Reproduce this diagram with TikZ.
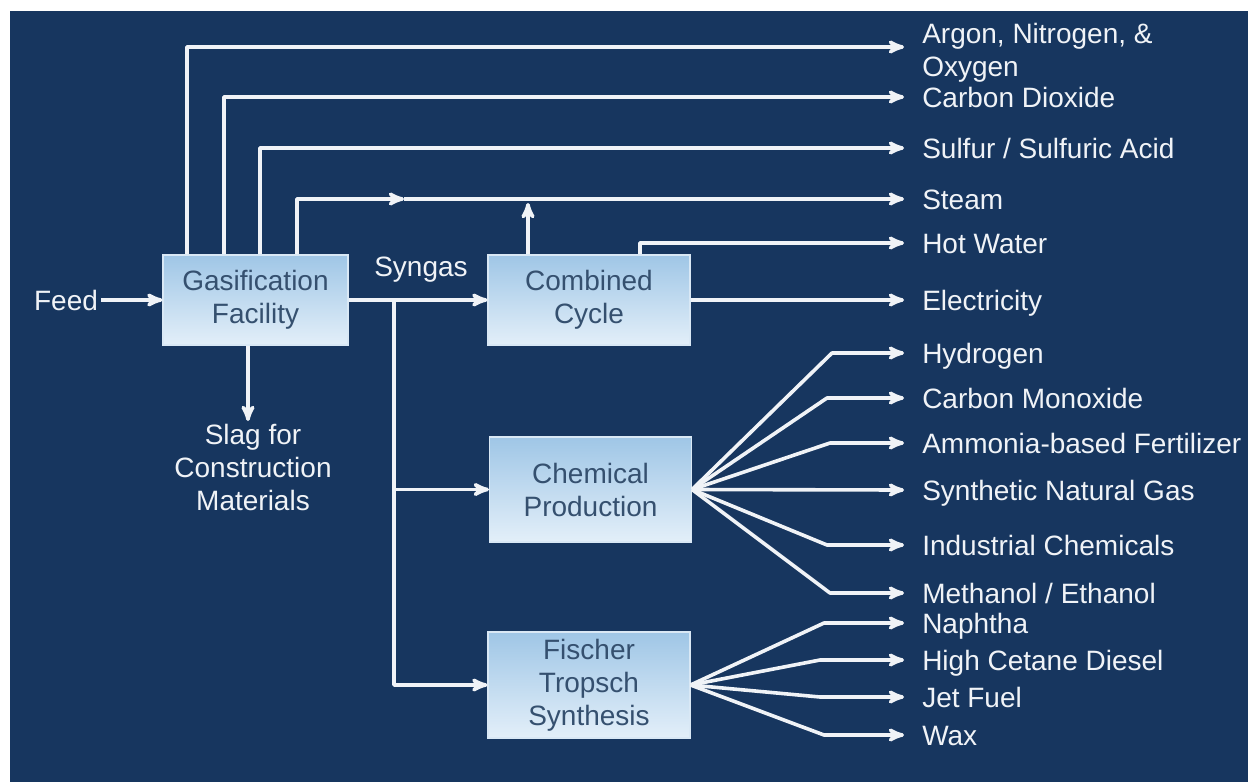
\documentclass[tikz,border=0pt]{standalone}
\usepackage{fontspec}
\setmainfont{Liberation Sans}
\usetikzlibrary{positioning, arrows}
\definecolor{fondo}{HTML}{17365F}
\definecolor{cajaarriba}{HTML}{9FC6E6}
\definecolor{cajaabajo}{HTML}{E3EFF9}
\definecolor{textocaja}{HTML}{35506F}
\definecolor{flujo}{HTML}{F0F3F7}
\tikzset{
    ->, % makes the connectors directed
    >=stealth', % arrow heads
    every node/.style={font=\fontsize{21}{24.75}\selectfont}, % Arial-like text everywhere
    bloque/.style={draw=white!60!cajaarriba, line width=0.8pt, top color=cajaarriba, bottom color=cajaabajo, text=textocaja, align=center, minimum width=151.5pt, minimum height=67.5pt, inner sep=0pt}, % process boxes
    salida/.style={anchor=west, text=flujo, inner xsep=13.5pt, inner ysep=0pt, text height=15pt, text depth=0pt}, % product labels
    rotulo/.style={text=flujo, inner sep=2pt, align=center}, % other labels
    linea/.style={draw=flujo, line width=2.7pt, line join=round} % white flows
}

\begin{document}
\begin{tikzpicture}[x=0.75pt, y=-0.75pt]
		\useasboundingbox (0,0) rectangle (1248,782);
		\fill[white, -] (0,0) rectangle (1248,782);
		\fill[fondo, -] (10,11) rectangle (1248,782);

		% Bloques
		\node[bloque, minimum width=138.75pt] (GF) at (255.5,300) {Gasification\\Facility};
		\node[bloque] (CC) at (589,300) {Combined\\Cycle};
		\node[bloque, minimum height=78.75pt] (CP) at (590.5,489.5) {Chemical\\Production};
		\node[bloque, minimum height=79.5pt] (FT) at (589,685) {Fischer\\Tropsch\\Synthesis};

		% Rotulos
		\node[rotulo] (feed) at (66,300) {Feed};
		\node[rotulo] (syn) at (421,270) {Syngas};
		\node[rotulo, anchor=north] (slag) at (253,421) {Slag for\\Construction\\Materials};

		% Productos
		\node[salida, text height=, text depth=, align=left] (AR) at (904,53) {Argon, Nitrogen, \&\\Oxygen};
		\node[salida] (CO2) at (904,97) {Carbon Dioxide};
		\node[salida] (SU) at (904,148) {Sulfur / Sulfuric Acid};
		\node[salida] (ST) at (904,199) {Steam};
		\node[salida] (HW) at (904,243) {Hot Water};
		\node[salida] (EL) at (904,300) {Electricity};
		\node[salida] (HY) at (904,353) {Hydrogen};
		\node[salida] (CM) at (904,398) {Carbon Monoxide};
		\node[salida] (AM) at (904,443) {Ammonia-based Fertilizer};
		\node[salida] (SN) at (904,490) {Synthetic Natural Gas};
		\node[salida] (IC) at (904,545) {Industrial Chemicals};
		\node[salida] (ME) at (904,593) {Methanol / Ethanol};
		\node[salida] (NA) at (904,623) {Naphtha};
		\node[salida] (DI) at (904,660) {High Cetane Diesel};
		\node[salida] (JF) at (904,697) {Jet Fuel};
		\node[salida] (WX) at (904,735) {Wax};

		\coordinate (vapor) at (404,0 |- ST.west);
		\coordinate (subida) at (528,203);
		\coordinate (rama) at (394,0 |- GF.east);

		% Flujos
		\draw[linea] (feed.east) -- (GF.west);
		\draw[linea] (248,0 |- GF.south) -- (248,0 |- slag.north);
		\draw[linea] (187,0 |- GF.north) |- ([yshift=4.5pt]AR.west);
		\draw[linea] (224,0 |- GF.north) |- (CO2.west);
		\draw[linea] (260,0 |- GF.north) |- (SU.west);
		\draw[linea] (297,0 |- GF.north) |- (vapor);
		\draw[linea] (vapor) -- (ST.west);
		\draw[linea] (GF.east) -- (CC.west);
		\draw[linea] (subida |- CC.north) -- (subida);
		\draw[linea] (640,0 |- CC.north) |- (HW.west);
		\draw[linea] (CC.east) -- (EL.west);
		\draw[linea] (rama) |- (FT.west);
		\draw[linea] (rama |- CP.west) -- (CP.west);

		\draw[linea] (CP.east) -- (832,0 |- HY.west) -- (HY.west);
		\draw[linea] (CP.east) -- (827,0 |- CM.west) -- (CM.west);
		\draw[linea] (CP.east) -- (830,0 |- AM.west) -- (AM.west);
		\draw[linea] (CP.east) -- (SN.west);
		\draw[linea] (CP.east) -- (827,0 |- IC.west) -- (IC.west);
		\draw[linea] (CP.east) -- (830,0 |- ME.west) -- (ME.west);

		\draw[linea] (FT.east) -- (824,0 |- NA.west) -- (NA.west);
		\draw[linea] (FT.east) -- (820,0 |- DI.west) -- (DI.west);
		\draw[linea] (FT.east) -- (820,0 |- JF.west) -- (JF.west);
		\draw[linea] (FT.east) -- (824,0 |- WX.west) -- (WX.west);
	\end{tikzpicture}
\end{document}
